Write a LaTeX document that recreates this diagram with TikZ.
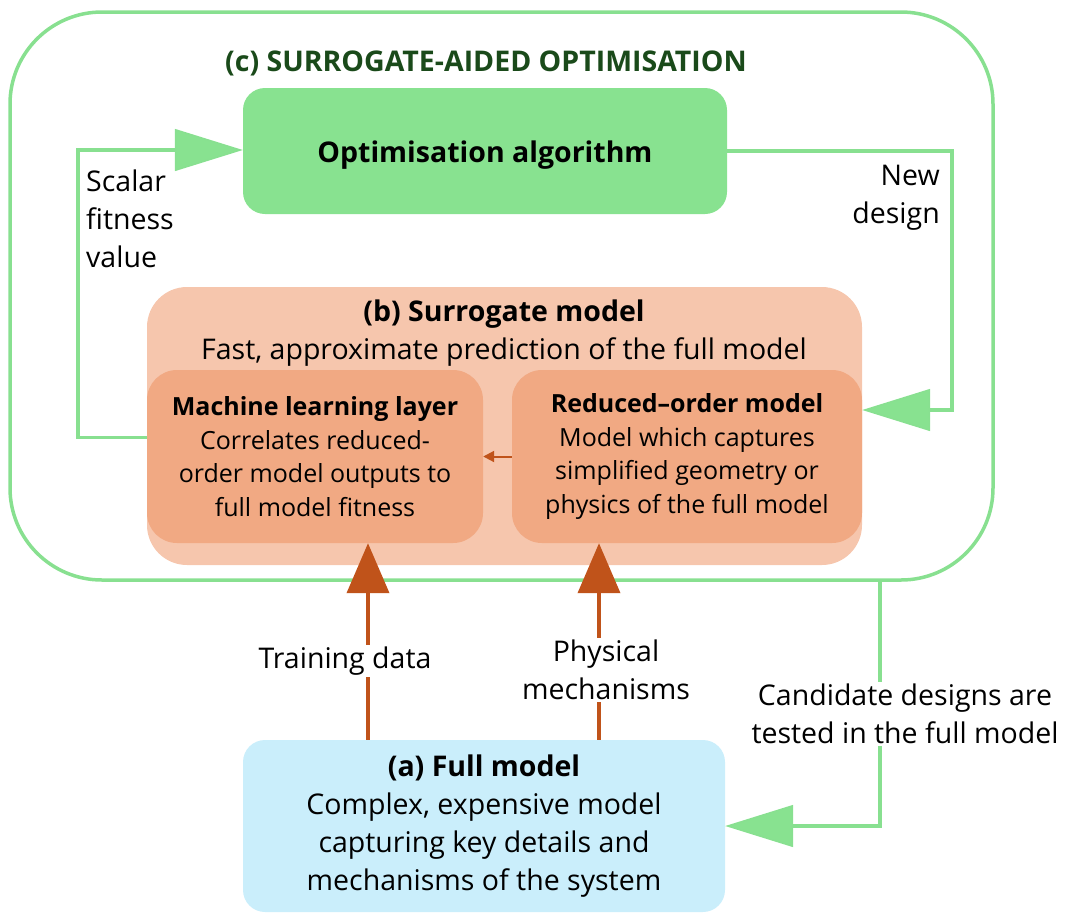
\documentclass[tikz,border=0pt]{standalone}
\usepackage{fontspec}
\setmainfont{Open Sans}
\usetikzlibrary{arrows.meta,calc}
\definecolor{gline}{HTML}{88E090}
\definecolor{gfill}{HTML}{88E290}
\definecolor{gdark}{HTML}{1A4A1A}
\definecolor{surrfill}{HTML}{F6C6AD}
\definecolor{mlfill}{HTML}{F1A983}
\definecolor{fullfill}{HTML}{CAEEFB}
\definecolor{orng}{HTML}{C0531A}
\tikzset{
  box/.style={inner sep=0pt, align=center, text=black},
  bigtxt/.style={font=\fontsize{28.5}{38}\selectfont},
  smltxt/.style={font=\fontsize{25}{33.5}\selectfont},
  gconn/.style={draw=gline, line width=3.5pt, line join=miter,
     -{Triangle[length=68pt,width=42pt,fill=gfill,line width=1.5pt]}},
  oconn/.style={draw=orng, line width=4pt,
     -{Triangle[length=50pt,width=42pt]}},
  lbl/.style={fill=white, inner sep=2pt, align=center, bigtxt},
}
\begin{document}
\begin{tikzpicture}[x=1pt,y=-1pt]
\useasboundingbox (0,0) rectangle (1066,914);
% outer (c)
\node[draw=gline, line width=3.5pt, rounded corners=92pt, minimum width=983pt, minimum height=568pt, inner sep=0pt] (Outer) at (501.5,296) {};
\node[text=gdark, font=\fontsize{28.5}{34}\selectfont\bfseries] (Title) at (486,63) {(c) SURROGATE-AIDED OPTIMISATION};
% optimisation algorithm
\node[box, fill=gfill, rounded corners=22pt, minimum width=484pt, minimum height=126pt, text height=29pt, text depth=6pt, font=\fontsize{28.5}{38}\selectfont\bfseries] (Opt) at (485,151) {Optimisation algorithm};
% surrogate
\node[box, fill=surrfill, rounded corners=40pt, minimum width=715pt, minimum height=278pt] (Surr) at (504.5,426) {};
\node[box, bigtxt] (SurrT) at (504,333) {\textbf{(b) Surrogate model}\\Fast, approximate prediction of the full model};
\node[box, fill=mlfill, rounded corners=30pt, minimum width=336pt, minimum height=173pt, smltxt] (ML) at (315,456.5)
  {\textbf{Machine learning layer}\\Correlates reduced-\\order model outputs to\\full model fitness};
\node[box, fill=mlfill, rounded corners=30pt, minimum width=350pt, minimum height=173pt, smltxt] (ROM) at (687,456.5)
  {\textbf{Reduced--order model}\\Model which captures\\simplified geometry or\\physics of the full model};
% full model
\node[box, fill=fullfill, rounded corners=22pt, minimum width=482pt, minimum height=172pt, bigtxt] (Full) at (484,826)
  {\textbf{(a) Full model}\\Complex, expensive model\\capturing key details and\\mechanisms of the system};
% small arrow
\draw[draw=orng, line width=2pt, -{Triangle[length=11pt,width=11pt]}] (ROM.west) -- (ML.east);
% green connectors
\draw[gconn] ([yshift=19pt]ML.west) -- ++(-69,0) |- ([yshift=1pt]Opt.west);
\draw[gconn] (Opt.east) -- ++(225,0) |- ([yshift=46.5pt]ROM.east);
\draw[gconn] ([xshift=378.5pt]Outer.south) |- (Full.east);
% orange arrows
\draw[oconn] ([xshift=-116pt]Full.north) -- ([xshift=-116pt]Full.north |- ML.south);
\draw[oconn] ([xshift=115pt]Full.north) -- ([xshift=115pt]Full.north |- ROM.south);
% labels
\node[lbl] (TD) at (345,661) {Training data};
\node[lbl] (PM) at (606,670) {Physical\\mechanisms};
\node[lbl] (CD) at (905,714) {Candidate designs are\\tested in the full model};
\node[anchor=west, align=left, bigtxt, inner sep=0pt] (SF) at (86,219) {Scalar\\fitness\\value};
\node[anchor=east, align=right, bigtxt, inner sep=0pt] (ND) at (940,198) {New\\design};
\end{tikzpicture}
\end{document}
